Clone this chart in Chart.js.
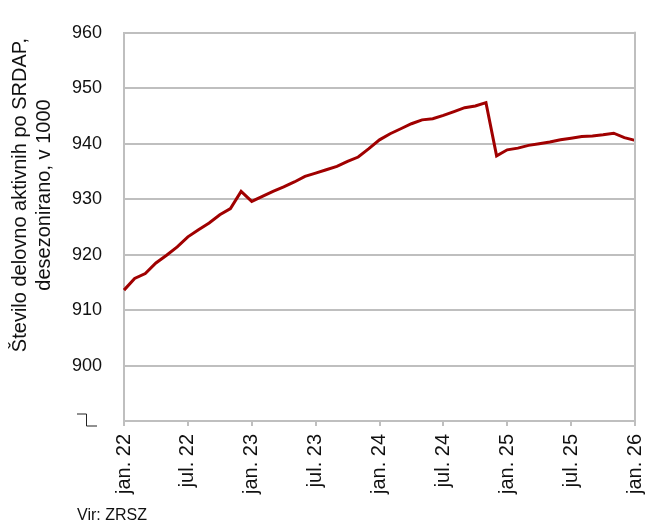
<!DOCTYPE html>
<html>
<head>
<meta charset="utf-8">
<script src="https://cdn.jsdelivr.net/npm/chart.js@4"></script>
<style>
  html, body { margin: 0; padding: 0; background: #fff; }
  #wrap { width: 650px; height: 531px; }
</style>
</head>
<body>
<div id="wrap"><canvas id="chart"></canvas></div>
<script>
// monthly, jan. 22 .. jan. 26
const months = ['jan.', 'feb.', 'mar.', 'apr.', 'maj', 'jun.', 'jul.', 'avg.', 'sep.', 'okt.', 'nov.', 'dec.'];
const years = ['22', '23', '24', '25', '26'];
const employed = [
    913.6, 915.7, 916.6, 918.5, 919.9, 921.4, 923.2, 924.5, 925.7, 927.2, 928.3, 931.4,
    929.6, 930.5, 931.4, 932.2, 933.1, 934.1, 934.7, 935.3, 935.9, 936.8, 937.6, 939.1,
    940.7, 941.8, 942.7, 943.6, 944.3, 944.5, 945.1, 945.8, 946.5, 946.8, 947.4, 937.8,
    938.9, 939.2, 939.7, 940.0, 940.3, 940.7, 941.0, 941.3, 941.4, 941.6, 941.9, 941.1,
    940.6
];
const yTitle = ['Število delovno aktivnih po SRDAP,', 'desezonirano, v 1000'];
const source = 'Vir: ZRSZ';

const labels = employed.map((v, i) => months[i % 12] + ' ' + years[Math.floor(i / 12)]);

const gridColor = '#bfbfbf';
const fontFamily = '"Liberation Sans", Arial, sans-serif';

// y title, axis break mark, right border and source line
const extras = {
    id: 'extras',
    afterDraw(chart) {
        const ctx = chart.ctx;
        const area = chart.chartArea;
        ctx.save();
        ctx.strokeStyle = gridColor;
        ctx.lineWidth = 2;
        ctx.beginPath();
        ctx.moveTo(area.right, area.top - 1);
        ctx.lineTo(area.right, area.bottom);
        ctx.stroke();

        // break symbol in place of the lowest tick
        const yb = chart.scales.y.getPixelForValue(890);
        ctx.strokeStyle = '#222';
        ctx.lineWidth = 1;
        ctx.beginPath();
        ctx.moveTo(77, yb - 7);
        ctx.lineTo(86.5, yb - 7);
        ctx.lineTo(86.5, yb + 5);
        ctx.lineTo(97, yb + 5);
        ctx.stroke();

        ctx.fillStyle = '#111';
        ctx.font = '20px ' + fontFamily;
        ctx.textAlign = 'center';
        ctx.textBaseline = 'middle';
        ctx.translate(0, 195);
        ctx.rotate(-Math.PI / 2);
        ctx.fillText(yTitle[0], 0, 20);
        ctx.fillText(yTitle[1], 0, 44);
        ctx.restore();

        ctx.save();
        ctx.fillStyle = '#111';
        ctx.font = '16px ' + fontFamily;
        ctx.textBaseline = 'middle';
        ctx.fillText(source, 77, 516);
        ctx.restore();
    }
};

new Chart(document.getElementById('chart'), {
    type: 'line',
    data: {
        labels: labels,
        datasets: [{
            data: employed,
            borderColor: '#a00000',
            borderWidth: 3,
            pointRadius: 0,
            tension: 0,
            fill: false
        }]
    },
    options: {
        responsive: true,
        maintainAspectRatio: false,
        animation: false,
        layout: { padding: { left: 0, right: 0, top: 32, bottom: 0 } },
        plugins: {
            legend: { display: false },
            tooltip: { enabled: false }
        },
        scales: {
            x: {
                offset: false,
                border: { display: true, color: gridColor, width: 2 },
                grid: {
                    drawOnChartArea: false,
                    color: gridColor,
                    lineWidth: 2,
                    tickLength: 5
                },
                ticks: {
                    autoSkip: false,
                    maxRotation: 90,
                    minRotation: 90,
                    padding: 8,
                    color: '#111',
                    font: { family: fontFamily, size: 20 },
                    callback: function (val, i) {
                        return i % 6 === 0 ? this.getLabelForValue(val) : null;
                    }
                },
                afterFit(scale) {
                    scale.height = 531 - 421;
                    scale.paddingRight = 15;
                }
            },
            y: {
                min: 890,
                max: 960,
                border: { display: true, color: gridColor, width: 2 },
                grid: { color: gridColor, lineWidth: 2, drawTicks: false },
                ticks: {
                    stepSize: 10,
                    padding: 22,
                    color: '#111',
                    font: { family: fontFamily, size: 18 },
                    callback: v => v === 890 ? '' : v
                },
                afterFit(scale) { scale.width = 124; }
            }
        }
    },
    plugins: [extras]
});
</script>
</body>
</html>
